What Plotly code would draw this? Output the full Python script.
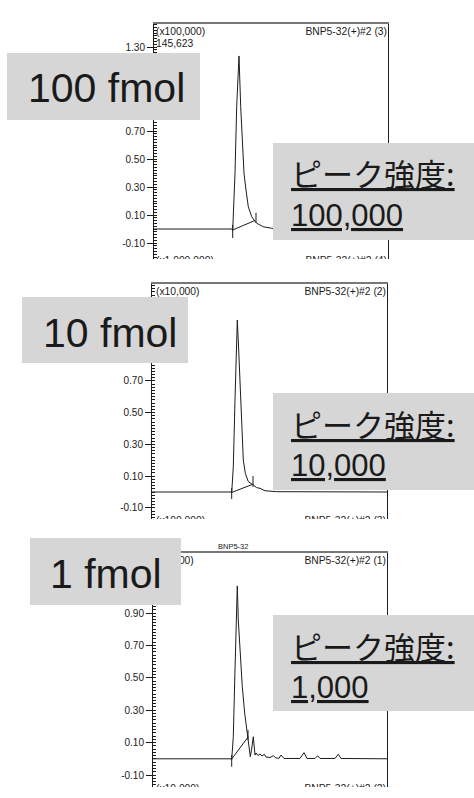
import plotly.graph_objects as go

W, H = 474, 798

# ---------------- data ----------------
# retention time (arbitrary min scale, 0-10 across the frame) and intensity (scaled units)
time_100 = [0.0, 3.333, 3.363, 3.406, 3.462, 3.534, 3.590, 3.632, 3.705, 3.761, 3.846,
            3.932, 4.030, 4.175, 4.389, 4.671, 5.030, 5.385, 10.0]
int_100 = [0.0, 0.0, -0.011, 0.159, 0.398, 0.874, 1.100, 1.236, 0.874, 0.636, 0.398,
           0.279, 0.159, 0.088, 0.041, 0.016, 0.005, 0.0, 0.0]
base_t_100 = [3.363, 4.316]
base_v_100 = [-0.007, 0.061]
mark_t_100 = [3.363, 3.363, None, 4.359, 4.359]
mark_v_100 = [0.029, -0.064, None, 0.116, 0.043]

time_10 = [0.0, 3.362, 3.391, 3.460, 3.532, 3.587, 3.630, 3.689, 3.745, 3.817, 3.860,
           3.885, 3.970, 4.098, 4.311, 4.447, 4.596, 4.809, 5.306, 10.0]
int_10 = [0.0, 0.0, -0.006, 0.159, 0.580, 0.894, 1.083, 0.894, 0.685, 0.474, 0.307,
          0.202, 0.118, 0.065, 0.044, 0.028, 0.023, 0.008, 0.002, 0.0]
base_t_10 = [3.391, 4.311]
base_v_10 = [-0.003, 0.050]
mark_t_10 = [3.391, 3.391, None, 4.298, 4.298]
mark_v_10 = [0.025, -0.044, None, 0.101, 0.031]

time_1 = [0.0, 3.333, 3.363, 3.432, 3.504, 3.560, 3.603, 3.645, 3.718, 3.816, 3.919,
          4.030, 4.103, 4.158, 4.209, 4.286, 4.359, 4.402, 4.487, 4.573, 4.658, 4.756,
          4.829, 5.000, 5.141, 5.256, 5.385, 5.470, 5.598, 6.282, 6.453, 6.581, 6.923,
          7.038, 7.137, 7.778, 7.919, 8.034, 10.0]
int_1 = [0.0, 0.0, -0.007, 0.136, 0.548, 0.857, 1.067, 0.857, 0.651, 0.445, 0.281,
         0.157, 0.075, 0.013, 0.054, 0.136, 0.023, 0.036, 0.020, 0.030, 0.017, 0.028,
         0.011, 0.008, 0.019, 0.005, 0.003, 0.023, 0.002, 0.002, 0.038, 0.002, 0.002,
         0.019, 0.002, 0.002, 0.028, 0.002, 0.0]
base_t_1 = [3.363, 4.072]
base_v_1 = [-0.001, 0.136]
mark_t_1 = [3.363, 3.363, None, 4.060, 4.060]
mark_v_1 = [0.023, -0.049, None, 0.178, 0.116]

# visible major tick labels (others are hidden under the label boxes)
tickvals_100 = [-0.1, 0.1, 0.3, 0.5, 0.7, 1.3]
ticktext_100 = ["-0.10", "0.10", "0.30", "0.50", "0.70", "1.30"]
tickvals_10 = [-0.1, 0.1, 0.3, 0.5, 0.7]
ticktext_10 = ["-0.10", "0.10", "0.30", "0.50", "0.70"]
tickvals_1 = [-0.1, 0.1, 0.3, 0.5, 0.7, 0.9]
ticktext_1 = ["-0.10", "0.10", "0.30", "0.50", "0.70", "0.90"]

amount_labels = ["100 fmol", "10 fmol", "1 fmol"]
intensity_labels = ["100,000", "10,000", "1,000"]
scale_labels = ["(x100,000)", "(x10,000)", "(x1,000)"]
trace_ids = ["BNP5-32(+)#2 (3)", "BNP5-32(+)#2 (2)", "BNP5-32(+)#2 (1)"]
next_scale_labels = ["(x1,000,000)", "(x100,000)", "(x10,000)"]
next_trace_ids = ["BNP5-32(+)#2 (4)", "BNP5-32(+)#2 (3)", "BNP5-32(+)#2 (2)"]
max_label = "145,623"
peak_title = "ピーク強度:"
compound = "BNP5-32"

# ---------------- layout helpers ----------------
def px(x):
    return x / W

def py(y):
    return 1 - y / H

LINE = "#1c1c1c"
TXT = "#1a1a1a"
BOX = "#d6d6d6"
SANS = "Liberation Sans, Arial, sans-serif"
JP = "Noto Sans CJK JP, sans-serif"

# panel frames in pixels: (left, right), (top, bottom); y-range of the frame
panels = [
    dict(x=(154, 388), y=(24, 259), yr=[-0.2143, 1.4643],
         t=time_100, v=int_100, bt=base_t_100, bv=base_v_100, mt=mark_t_100, mv=mark_v_100,
         tv=tickvals_100, tt=ticktext_100, head_y=32, frag_y=261),
    dict(x=(152, 387), y=(284, 519), yr=[-0.1701, 1.3102],
         t=time_10, v=int_10, bt=base_t_10, bv=base_v_10, mt=mark_t_10, mv=mark_v_10,
         tv=tickvals_10, tt=ticktext_10, head_y=292, frag_y=521),
    dict(x=(153, 387), y=(553, 787), yr=[-0.1741, 1.2704],
         t=time_1, v=int_1, bt=base_t_1, bv=base_v_1, mt=mark_t_1, mv=mark_v_1,
         tv=tickvals_1, tt=ticktext_1, head_y=561, frag_y=789),
]

def to_data(p, xpix, ypix):
    x0, x1 = p["x"]
    y0, y1 = p["y"]
    lo, hi = p["yr"]
    tx = (xpix - x0) / (x1 - x0) * 10.0
    vy = hi - (ypix - y0) / (y1 - y0) * (hi - lo)
    return tx, vy

fig = go.Figure()
layout = dict(width=W, height=H, margin=dict(l=0, r=0, t=0, b=0),
              paper_bgcolor="white", plot_bgcolor="white", showlegend=False)

for k, p in enumerate(panels):
    n = "" if k == 0 else str(k + 1)
    xa, ya = "x" + n, "y" + n
    fig.add_trace(go.Scatter(x=p["t"], y=p["v"], mode="lines", xaxis=xa, yaxis=ya,
                             line=dict(color=LINE, width=1), hoverinfo="skip"))
    fig.add_trace(go.Scatter(x=p["bt"], y=p["bv"], mode="lines", xaxis=xa, yaxis=ya,
                             line=dict(color=LINE, width=1), hoverinfo="skip"))
    fig.add_trace(go.Scatter(x=p["mt"], y=p["mv"], mode="lines", xaxis=xa, yaxis=ya,
                             line=dict(color=LINE, width=1), hoverinfo="skip"))
    # header texts inside the frame (drawn below the grey label boxes)
    hx0, hy = to_data(p, 156, p["head_y"])
    hx1, _ = to_data(p, p["x"][1] - 1, p["head_y"])
    hxs, hys, htx, hpos = [hx0, hx1], [hy, hy], [scale_labels[k], trace_ids[k]], ["middle right", "middle left"]
    if k == 0:
        _, hy2 = to_data(p, 156, 44)
        hxs.append(hx0); hys.append(hy2); htx.append(max_label); hpos.append("middle right")
    fig.add_trace(go.Scatter(x=hxs, y=hys, mode="text", xaxis=xa, yaxis=ya,
                             cliponaxis=True, text=htx, textposition=hpos,
                             textfont=dict(family=SANS, size=10.3, color=TXT),
                             hoverinfo="skip"))
    # clipped header of the next (cropped-off) chromatogram
    fx0, fy = to_data(p, 156, p["frag_y"])
    fx1, _ = to_data(p, p["x"][1] - 1, p["frag_y"])
    fig.add_trace(go.Scatter(x=[fx0, fx1], y=[fy, fy], mode="text",
                             xaxis=xa, yaxis=ya, cliponaxis=True,
                             text=[next_scale_labels[k], next_trace_ids[k]],
                             textposition=["middle right", "middle left"],
                             textfont=dict(family=SANS, size=10.3, color=TXT),
                             hoverinfo="skip"))
    layout["xaxis" + n] = dict(domain=[px(p["x"][0]), px(p["x"][1])], range=[0, 10],
                               anchor=ya, side="top", showline=True, linecolor="#777777",
                               linewidth=2, mirror=False, ticks="", showticklabels=False,
                               showgrid=False, zeroline=False, fixedrange=True)
    layout["yaxis" + n] = dict(domain=[py(p["y"][1]), py(p["y"][0])], range=p["yr"],
                               anchor=xa, showline=True, linecolor=LINE, linewidth=1,
                               mirror=True, ticks="outside", ticklen=6, tickwidth=1,
                               tickcolor=LINE, tickmode="array", tickvals=p["tv"],
                               ticktext=p["tt"], ticklabelstandoff=0,
                               tickfont=dict(family=SANS, size=10, color=TXT),
                               minor=dict(tickmode="linear", tick0=0, dtick=0.02,
                                          ticks="inside", ticklen=3, tickcolor=LINE,
                                          tickwidth=1, showgrid=False),
                               showgrid=False, zeroline=False, fixedrange=True)

fig.update_layout(**layout)

shapes = []
annotations = []

def ann(text, x, y, size, family=SANS, xanchor="left", yanchor="middle"):
    annotations.append(dict(text=text, x=px(x), y=py(y), xref="paper", yref="paper",
                            xanchor=xanchor, yanchor=yanchor, showarrow=False, align="left",
                            font=dict(family=family, size=size, color=TXT)))

ann(compound, 233, 546, 7.5, xanchor="center")

# grey label boxes (amount)
amount_boxes = [(7, 200, 53, 120), (22, 188, 297, 363), (30, 181, 538, 605)]
amount_text = [(26, 88.5), (41, 332.5), (48, 573.5)]
for (x0, x1, y0, y1), (tx, ty), lab in zip(amount_boxes, amount_text, amount_labels):
    shapes.append(dict(type="rect", xref="paper", yref="paper", x0=px(x0), x1=px(x1),
                       y0=py(y1), y1=py(y0), fillcolor=BOX, line=dict(width=0),
                       layer="above"))
    ann(lab, tx, ty, 41)

# grey label boxes (peak intensity)
peak_boxes = [(273, 474, 143, 240), (273, 474, 393, 490), (273, 474, 615, 711)]
for (x0, x1, y0, y1), lab in zip(peak_boxes, intensity_labels):
    shapes.append(dict(type="rect", xref="paper", yref="paper", x0=px(x0), x1=px(x1),
                       y0=py(y1), y1=py(y0), fillcolor=BOX, line=dict(width=0),
                       layer="above"))
    ann("<u>" + peak_title + "</u>", 289, y0 + 30, 31, family=JP)
    ann("<u>" + lab + "</u>", 289, y0 + 72, 31, family=SANS)

fig.update_layout(shapes=shapes, annotations=annotations)
fig.write_html("out.html", config={"displayModeBar": False},
               post_script="document.body.style.margin='0';document.body.style.padding='0';")
